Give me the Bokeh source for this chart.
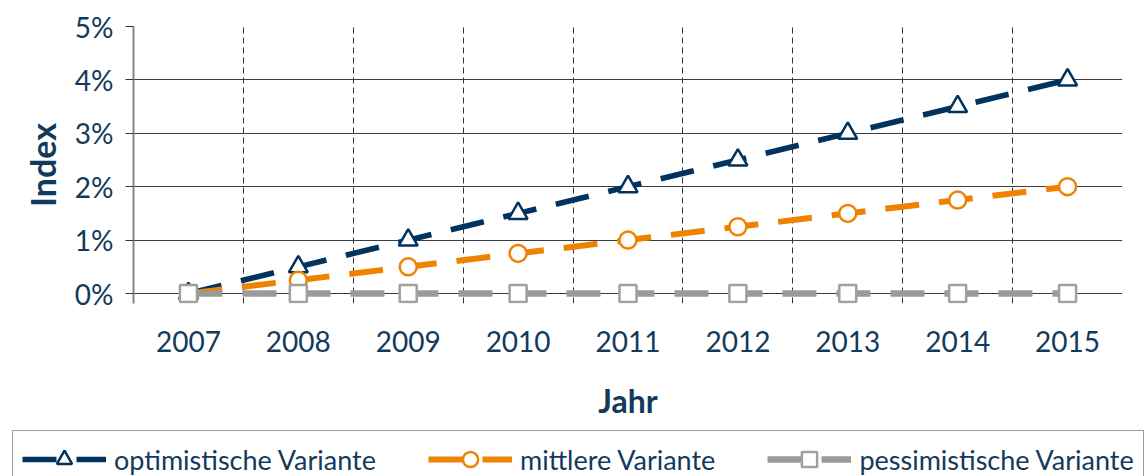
from bokeh.plotting import figure
from bokeh.models import (Range1d, FixedTicker, NumeralTickFormatter, Legend,
                          LegendItem, ColumnDataSource)
from bokeh.layouts import column
from bokeh.embed import file_html
from bokeh.resources import INLINE

# ---- data -------------------------------------------------------------
years = ["2007", "2008", "2009", "2010", "2011", "2012", "2013", "2014", "2015"]
optimistisch = [0.000, 0.005, 0.010, 0.015, 0.020, 0.025, 0.030, 0.035, 0.040]
mittel = [0.000, 0.0025, 0.005, 0.0075, 0.010, 0.0125, 0.015, 0.0175, 0.020]
pessimistisch = [0.000, 0.000, 0.000, 0.000, 0.000, 0.000, 0.000, 0.000, 0.000]
y_ticks = [0.00, 0.01, 0.02, 0.03, 0.04, 0.05]
labels = ["optimistische Variante", "mittlere Variante", "pessimistische Variante"]

# ---- style ------------------------------------------------------------
NAVY = "#00335e"
ORANGE = "#ef8200"
GRAY = "#9a9a9a"
SQ_EDGE = "#a0a0a0"
TEXT = "#123a5c"
FONT = "Lato"
DASH = "34 20"
W = 1145

xs = list(range(len(years)))
boundaries = [i + 0.5 for i in xs]

frame_h = 277
zero_offset_px = 10
y_top = y_ticks[-1]
y_bottom = -y_top * zero_offset_px / (frame_h - zero_offset_px)

src = ColumnDataSource(dict(x=xs, opt=optimistisch, mit=mittel, pes=pessimistisch))


def add_series(fig):
    lo = fig.line("x", "opt", source=src, line_color=NAVY, line_width=5.5, line_dash=DASH)
    lm = fig.line("x", "mit", source=src, line_color=ORANGE, line_width=6, line_dash=DASH)
    lp = fig.line("x", "pes", source=src, line_color=GRAY, line_width=6.5, line_dash=DASH)
    mo = fig.scatter("x", "opt", source=src, marker="triangle", size=19,
                     fill_color="white", line_color=NAVY, line_width=2.5)
    mm = fig.scatter("x", "mit", source=src, marker="circle", size=17,
                     fill_color="white", line_color=ORANGE, line_width=2.5)
    mp = fig.scatter("x", "pes", source=src, marker="square", size=17,
                     fill_color="white", line_color=SQ_EDGE, line_width=2.5)
    return [(lo, mo), (lm, mm), (lp, mp)]


# ---- main chart ---------------------------------------------------------
p = figure(width=W, height=428,
           x_range=Range1d(-0.5, len(years) - 0.5),
           y_range=Range1d(y_bottom, y_top),
           output_backend="svg", toolbar_location=None,
           min_border_left=133, min_border_right=23,
           min_border_top=26, min_border_bottom=125)
p.outline_line_color = None
add_series(p)

# x axis
xa = p.xaxis[0]
xa.ticker = FixedTicker(ticks=xs)
xa.major_label_overrides = {i: y for i, y in zip(xs, years)}
xa.axis_line_color = None
xa.major_tick_line_color = None
xa.minor_tick_line_color = None
xa.major_tick_out = 0
xa.major_tick_in = 0
xa.major_label_standoff = 27
xa.major_label_text_font = FONT
xa.major_label_text_font_size = "28px"
xa.major_label_text_color = TEXT
xa.axis_label = "Jahr"
xa.axis_label_text_font = FONT
xa.axis_label_text_font_style = "bold"
xa.axis_label_text_font_size = "32px"
xa.axis_label_text_color = TEXT
xa.axis_label_standoff = 26

# y axis
ya = p.yaxis[0]
ya.ticker = FixedTicker(ticks=y_ticks)
ya.formatter = NumeralTickFormatter(format="0%")
ya.axis_line_color = "#858585"
ya.axis_line_width = 2
ya.major_tick_line_color = "#333333"
ya.major_tick_out = 8
ya.major_tick_in = 0
ya.minor_tick_line_color = None
ya.major_label_standoff = 12
ya.major_label_text_font = FONT
ya.major_label_text_font_size = "28px"
ya.major_label_text_color = TEXT
ya.axis_label = "Index"
ya.axis_label_text_font = FONT
ya.axis_label_text_font_style = "bold"
ya.axis_label_text_font_size = "34px"
ya.axis_label_text_color = TEXT
ya.axis_label_standoff = 9

# grids
p.xgrid.ticker = FixedTicker(ticks=boundaries)
p.xgrid.grid_line_color = "#333333"
p.xgrid.grid_line_dash = "6 4"
p.xgrid.grid_line_width = 1
p.ygrid.ticker = FixedTicker(ticks=y_ticks)
p.ygrid.grid_line_color = "#3c3c3c"
p.ygrid.grid_line_width = 1

# ---- legend strip (same series styles; data lie outside its view) -------
p2 = figure(width=W, height=48,
            x_range=Range1d(0, W), y_range=Range1d(1000, 1048),
            output_backend="svg", toolbar_location=None,
            x_axis_location=None, y_axis_location=None,
            min_border=0, min_border_left=0, min_border_right=0,
            min_border_top=0, min_border_bottom=0)
p2.outline_line_color = None
p2.xgrid.visible = False
p2.ygrid.visible = False
for fig in (p, p2):
    if "frame_align" in fig.properties():
        fig.frame_align = False
proxies = add_series(p2)

legend = Legend(items=[LegendItem(label=lab, renderers=list(pr))
                       for lab, pr in zip(labels, proxies)],
                location=(12, -12), orientation="horizontal",
                border_line_color="#404040", border_line_width=1.5,
                background_fill_alpha=0,
                padding=9, spacing=52, glyph_width=84, glyph_height=38,
                label_standoff=8,
                label_text_font=FONT, label_text_font_size="27px",
                label_text_color=TEXT)
p2.add_layout(legend)

layout = column(p, p2, spacing=0)
open("out.html", "w").write(file_html(layout, INLINE))
